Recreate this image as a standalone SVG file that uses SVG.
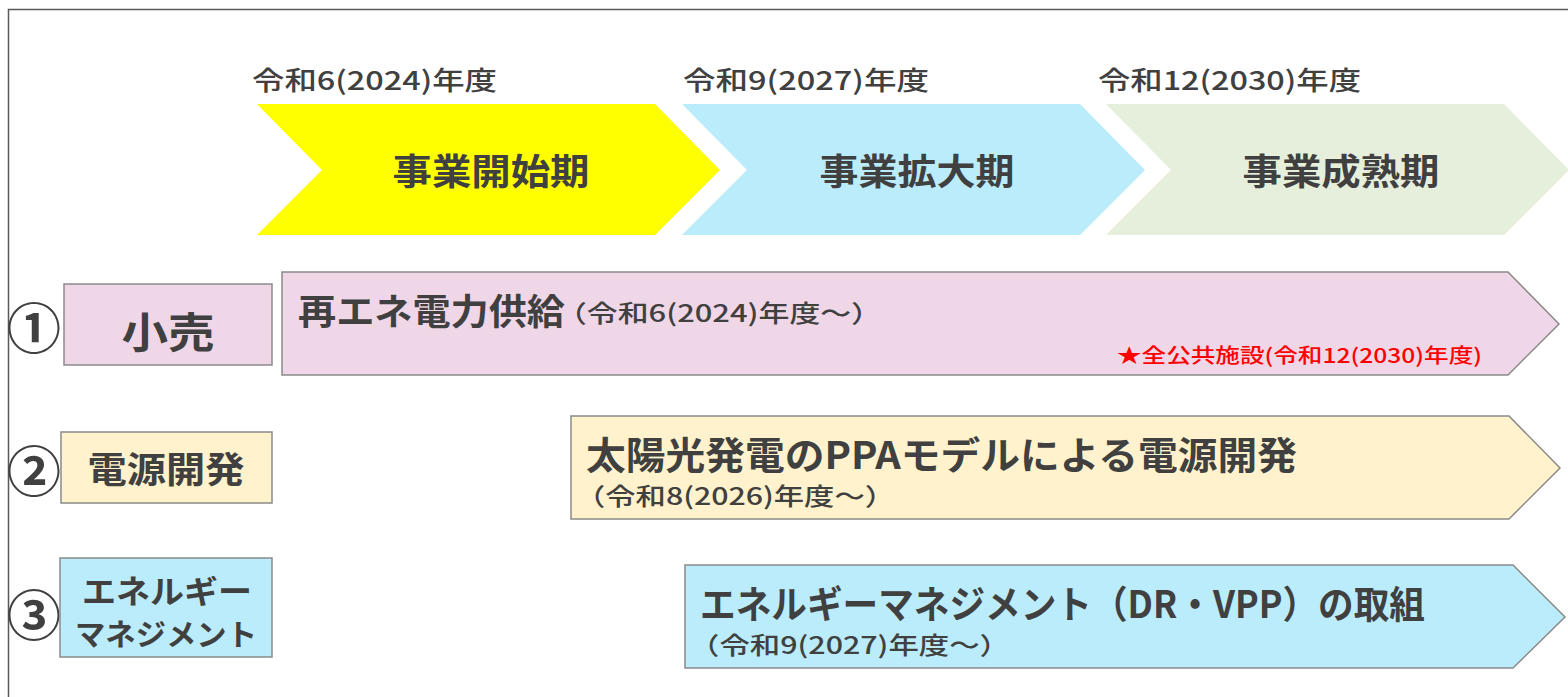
<svg xmlns="http://www.w3.org/2000/svg" width="1568" height="697" viewBox="0 0 1568 697">
<style>
text{font-family:"Noto Sans CJK JP","Noto Sans",sans-serif;fill:#404040;dominant-baseline:central}
.b{font-weight:bold}
.m{font-weight:500}
.n{font-weight:bold;font-size:54px}
.box{stroke:#8a8a8a;stroke-width:1.5}
</style>
<rect x="0" y="0" width="1568" height="697" fill="#fff"/>
<path d="M8.5 697 V9.5 H1568" fill="none" stroke="#5a5a5a" stroke-width="1.5"/>

<g id="phase-labels">
<text x="252" y="78" font-size="26" class="m" textLength="245" lengthAdjust="spacingAndGlyphs">令和6(2024)年度</text>
<text x="683" y="78" font-size="26" class="m" textLength="246" lengthAdjust="spacingAndGlyphs">令和9(2027)年度</text>
<text x="1098" y="78" font-size="26" class="m" textLength="263" lengthAdjust="spacingAndGlyphs">令和12(2030)年度</text>
</g>

<g id="phase1">
<polygon points="257,104 655,104 720,170 655,235 257,235 322,170" fill="#ffff00"/>
<text x="491" y="169" font-size="36" class="b" text-anchor="middle" textLength="197" lengthAdjust="spacingAndGlyphs">事業開始期</text>
</g>
<g id="phase2">
<polygon points="682,104 1080,104 1145,170 1080,235 682,235 747,170" fill="#bbecfc"/>
<text x="917" y="169" font-size="36" class="b" text-anchor="middle" textLength="195" lengthAdjust="spacingAndGlyphs">事業拡大期</text>
</g>
<g id="phase3">
<polygon points="1106,104 1504,104 1569,170 1504,235 1106,235 1171,170" fill="#e6eedc"/>
<text x="1341" y="169" font-size="36" class="b" text-anchor="middle" textLength="197" lengthAdjust="spacingAndGlyphs">事業成熟期</text>
</g>

<g id="num1"><text x="34" y="325" class="n" text-anchor="middle">①</text></g>
<g id="num2"><text x="34" y="468" class="n" text-anchor="middle">②</text></g>
<g id="num3"><text x="34" y="612" class="n" text-anchor="middle">③</text></g>

<g id="retail">
<rect x="64" y="284" width="208" height="81" fill="#f0d7e7" class="box"/>
<text x="168" y="329" font-size="42" class="b" text-anchor="middle" textLength="93" lengthAdjust="spacingAndGlyphs">小売</text>
</g>
<g id="power-dev">
<rect x="61" y="432" width="211" height="71" fill="#fff2cc" class="box"/>
<text x="166" y="467" font-size="36" class="b" text-anchor="middle" textLength="157" lengthAdjust="spacingAndGlyphs">電源開発</text>
</g>
<g id="energy-mgmt">
<rect x="60" y="558" width="212" height="99" fill="#bbecfc" class="box"/>
<text x="167" y="589" font-size="32" class="b" text-anchor="middle" textLength="170" lengthAdjust="spacingAndGlyphs">エネルギー</text>
<text x="166" y="632" font-size="30" class="b" text-anchor="middle" textLength="182" lengthAdjust="spacingAndGlyphs">マネジメント</text>
</g>

<g id="retail-bar">
<polygon points="282,272 1508,272 1559,324 1508,375 282,375" fill="#f0d7e7" class="box"/>
<text x="298" y="309" font-size="36" class="b" textLength="267" lengthAdjust="spacingAndGlyphs">再エネ電力供給</text>
<text x="556" y="311" font-size="24" class="m" textLength="326" lengthAdjust="spacingAndGlyphs">（令和6(2024)年度～）</text>
<text x="1117" y="354" font-size="20" class="m" style="fill:#ff0000" textLength="365" lengthAdjust="spacingAndGlyphs">★全公共施設(令和12(2030)年度)</text>
</g>
<g id="power-dev-bar">
<polygon points="571,416 1509,416 1560,468 1509,519 571,519" fill="#fff2cc" class="box"/>
<text x="586" y="452" font-size="38" class="b" textLength="711" lengthAdjust="spacingAndGlyphs">太陽光発電のPPAモデルによる電源開発</text>
<text x="575" y="494" font-size="24" class="m" textLength="320" lengthAdjust="spacingAndGlyphs">（令和8(2026)年度～）</text>
</g>
<g id="energy-mgmt-bar">
<polygon points="685,565 1513,565 1565,617 1513,668 685,668" fill="#bbecfc" class="box"/>
<text x="700" y="601" font-size="38" class="b" textLength="725" lengthAdjust="spacingAndGlyphs">エネルギーマネジメント（DR・VPP）の取組</text>
<text x="689" y="643" font-size="24" class="m" textLength="321" lengthAdjust="spacingAndGlyphs">（令和9(2027)年度～）</text>
</g>
</svg>
